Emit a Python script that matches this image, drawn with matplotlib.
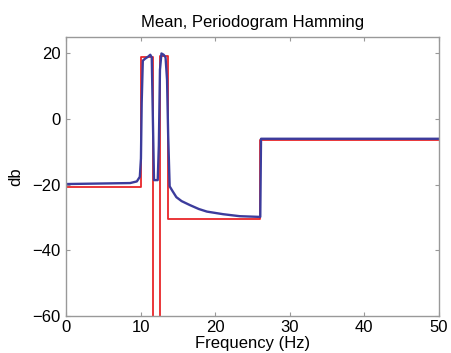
import matplotlib.pyplot as plt

plt.rcParams['font.family'] = ['Liberation Sans', 'DejaVu Sans']

# true spectrum (red), step shaped
true_f = [0, 10.1, 10.1, 11.7, 11.7, 12.55, 12.55, 13.65, 13.65, 26.05, 26.05, 50]
true_db = [-20.6, -20.6, 18.8, 18.8, -100, -100, 19.2, 19.2, -30.4, -30.4, -6.5, -6.5]

# mean periodogram estimate (blue)
est_f = [0, 8.6, 9.5, 9.9, 10.05, 10.15, 10.3, 10.6, 11.0, 11.3, 11.5, 11.65, 11.8, 12.3, 12.45,
         12.6, 12.8, 13.1, 13.35, 13.55, 13.7, 13.9, 14.3, 14.8, 15.5, 16.6, 17.8,
         18.9, 21.1, 23.3, 25.8, 26.05, 26.15, 50]
est_db = [-19.8, -19.5, -19.0, -17.6, -12, 5, 17.8, 18.4, 19.0, 19.6, 18.8, 0, -18.6, -18.6, -8,
          15, 20, 19.6, 18.8, 12, -5, -20.5, -22.0, -23.8, -25.0, -26.2, -27.4,
          -28.2, -29.0, -29.6, -29.8, -29.8, -6.0, -6.0]

fig, ax = plt.subplots(figsize=(4.52, 3.53), dpi=100)
fig.subplots_adjust(left=0.146, right=0.971, bottom=0.105, top=0.895)

ax.plot(true_f, true_db, color='#e8262a', lw=1.3)
ax.plot(est_f, est_db, color='#3c3c9c', lw=1.7)

ax.set_xlim(0, 50)
ax.set_ylim(-60, 25)
ax.set_xticks([0, 10, 20, 30, 40, 50])
ax.set_yticks([-60, -40, -20, 0, 20])
ax.set_yticklabels(['\u221260', '\u221240', '\u221220', '0', '20'])
ax.tick_params(direction='in', top=True, right=True, labelsize=12, length=3,
               color='#999999')
ax.tick_params(axis='y', pad=4)
ax.tick_params(axis='x', pad=3)
for s in ax.spines.values():
    s.set_color('#999999')
    s.set_linewidth(1.0)

ax.set_title('Mean, Periodogram Hamming', fontsize=12, pad=7)
ax.set_xlabel('Frequency (Hz)', fontsize=12, labelpad=1)
ax.set_ylabel('db', fontsize=12, labelpad=6)

fig.savefig('out.png', dpi=100)
